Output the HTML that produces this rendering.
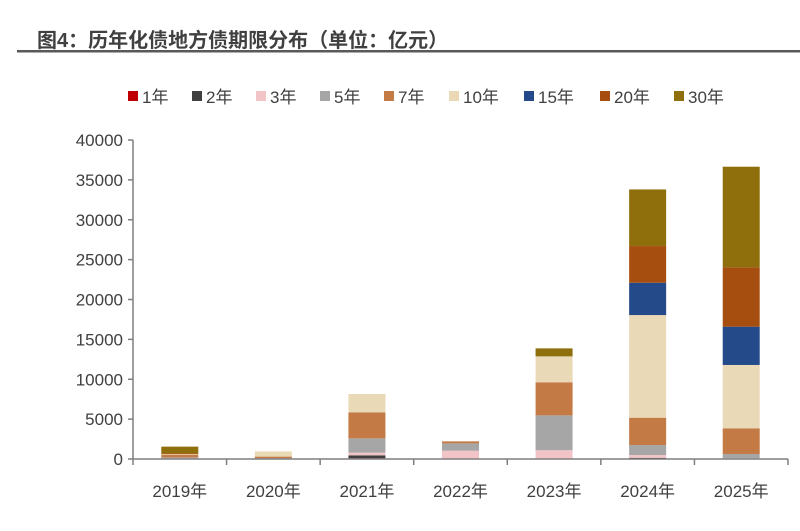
<!DOCTYPE html>
<html><head><meta charset="utf-8"><style>
body{margin:0;background:#fff;}
#wrap{position:relative;width:800px;height:531px;overflow:hidden;font-family:"Liberation Sans","Noto Sans CJK SC",sans-serif;}
</style></head><body>
<div id="wrap">
<svg id="chart" width="800" height="531">
<text x="37" y="47" font-size="20" font-weight="bold" fill="#404040" font-family="Liberation Sans, Noto Sans CJK SC, sans-serif">图4：历年化债地方债期限分布（单位：亿元）</text>
<rect x="17" y="50" width="783" height="2.5" fill="#595959"/>
<g id="legend"></g>
<g id="yaxis"></g>
<g id="bars"></g>
<g id="xaxis"></g>
</svg>
</div>
<script>
const categories=["2019年","2020年","2021年","2022年","2023年","2024年","2025年"];
const seriesNames=["1年","2年","3年","5年","7年","10年","15年","20年","30年"];
const s1=[0,0,100,0,0,50,0];
const s2=[0,0,360,0,0,100,0];
const s3=[100,50,330,1040,1100,350,100];
const s5=[100,50,1800,920,4370,1250,530];
const s7=[300,200,3260,250,4150,3430,3220];
const s10=[100,650,2300,0,3250,12870,7940];
const s15=[0,0,0,0,0,4050,4800];
const s20=[100,0,0,0,0,4600,7440];
const s30=[850,0,0,0,1000,7100,12620];
const yTicks=[0,5000,10000,15000,20000,25000,30000,35000,40000];
const colors=["#c00000","#404040","#f2c4c8","#a6a6a6","#c47a45","#ead9b6","#254a8a","#a64d10","#8f6e0c"];
const series=[s1,s2,s3,s5,s7,s10,s15,s20,s30];
const NS="http://www.w3.org/2000/svg";
const x0=133,x1=788,y0=459,y1=140,yMax=40000;
const bw=(x1-x0)/categories.length;
function yS(v){return y0-(v/yMax)*(y0-y1);}
function xC(i){return x0+bw*(i+0.5);}
function mk(t,a,p){const e=document.createElementNS(NS,t);for(const k in a)e.setAttribute(k,a[k]);p.appendChild(e);return e;}
const yg=document.getElementById('yaxis');
yTicks.forEach(v=>{
 const t=mk('text',{x:123,y:yS(v)+6,'text-anchor':'end','font-size':17,fill:'#404040'},yg);
 
 
 t.textContent=v;
 const l=mk('line',{x1:128,x2:133,y1:yS(v),y2:yS(v),stroke:'#7f7f7f','stroke-width':1.5},yg);
 
 
});
const ya=mk('line',{x1:x0,x2:x0,y1:y1,y2:y0,stroke:'#7f7f7f','stroke-width':1.5},yg);


const bg=document.getElementById('bars');
categories.forEach((c,i)=>{
 let acc=0;
 series.forEach((s,k)=>{
  const v=s[i]; if(!v){return;}
  const r=mk('rect',{x:xC(i)-18.5,width:37,y:yS(acc+v),height:yS(acc)-yS(acc+v),fill:colors[k]},bg);
  
  
  acc+=v;
 });
});
const xg=document.getElementById('xaxis');
const xa=mk('line',{x1:x0,x2:x1,y1:y0,y2:y0,stroke:'#7f7f7f','stroke-width':1.5},xg);


for(let i=0;i<=categories.length;i++){
 const l=mk('line',{x1:x0+bw*i,x2:x0+bw*i,y1:y0,y2:y0+6,stroke:'#7f7f7f','stroke-width':1.5},xg);
 
 
}
categories.forEach((c,i)=>{
 const t=mk('text',{x:xC(i),y:497,'text-anchor':'middle','font-size':17,fill:'#404040'},xg);
 
 
 t.textContent=c;
});
const lg=document.getElementById('legend');
const lx=[128,192,256,320,384,449,524,600,674];
seriesNames.forEach((n,k)=>{
 const g=mk('g',{},lg);
 
 
 mk('rect',{x:lx[k],y:91,width:10,height:10,fill:colors[k]},g);
 const t=mk('text',{x:lx[k]+14,y:103,'font-size':17,fill:'#404040'},g);
 t.textContent=n;
});
</script>
</body></html>
